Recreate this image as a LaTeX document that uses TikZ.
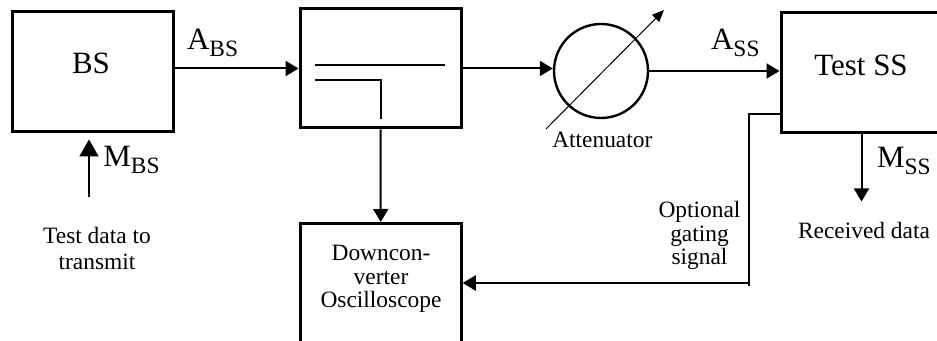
\documentclass[tikz,border=0pt]{standalone}
\usepackage{fontspec}
\setmainfont{Liberation Serif}
\usetikzlibrary{arrows.meta, positioning, calc}
\newcommand{\subs}[1]{\raisebox{-3.5pt}{\fontsize{11.7}{12}\selectfont #1}}

\begin{document}
\begin{tikzpicture}[
    x=0.5pt, y=-0.5pt,
    box/.style={rectangle, draw, line width=1.5pt, minimum width=80.5pt, minimum height=60pt, inner sep=0pt},
    big/.style={font=\fontsize{15.5}{18}\selectfont, inner sep=0pt},
    small/.style={font=\fontsize{11.7}{11.75}\selectfont, inner sep=0pt, align=center},
    arr/.style={-{Triangle[length=6.5pt, width=7.5pt]}, line width=1pt},
    wire/.style={line width=1pt}
]
\useasboundingbox (0,0) rectangle (937,341);
\clip (0,0) rectangle (937,341);

\node[box] (bs) at (92.5,72) {};
\node[box, minimum height=59.5pt] (coupler) at (380.5,68.5) {};
\node[box, anchor=north, minimum height=90pt] (down) at (380.75,222) {};
\node[circle, draw, line width=1.2pt, minimum size=47pt, inner sep=0pt] (att) at (601,71) {};
\node[box] (ss) at (861.5,73) {};

\node[big, anchor=base] (bstext) at (91,74) {BS};
\node[big, anchor=base] (sstext) at (861,76) {Test SS};
\node[big, anchor=base west] (abs) at (186.7,50) {A\subs{BS}};
\node[big, anchor=base west] (mbs) at (103,166.7) {M\subs{BS}};
\node[big, anchor=base west] (ass) at (710.7,49.3) {A\subs{SS}};
\node[big, anchor=base west] (mss) at (876.7,168) {M\subs{SS}};
\node[small, anchor=base] (atttext) at (602.3,147.7) {Attenuator};
\node[small, anchor=base, font=\fontsize{11.7}{13}\selectfont] (txdata) at (97,269.3) {Test data to\\transmit};
\node[small, anchor=base] (rxdata) at (864,238.3) {Received data};
\node[small, anchor=base] (gating) at (699.5,265) {Optional\\gating\\signal};
\node[small, anchor=base] (downtext) at (381,308) {Downcon-\\verter\\Oscilloscope};

\coordinate (msrc) at (89,197);
\coordinate (gate) at (749,283);

\draw[wire] (315,65) -- (445,65);
\draw[wire] (315,80) -| (381,119);

\draw[arr] (bs.east |- coupler.west) -- (coupler.west);
\draw[arr] (coupler.east) -- (att.west |- coupler.east);
\draw[arr] (att.east) -- (att.east -| ss.west);
\draw[arr] (coupler.south) -- (down.north);
\draw[arr, -{Triangle[length=8.5pt, width=9.5pt]}, shorten >=3pt] (msrc) -- (msrc |- bs.south);
\draw[arr] (ss.south) -- ++(0,67);
\draw[-{Triangle[length=6pt, width=5pt]}, line width=0.5pt] ([shift={(-55,58)}]att.center) -- ([shift={(63,-61)}]att.center);
\draw[wire] (ss.west) ++(0,41) -| ([yshift=-1.5pt]gate);
\draw[arr] (gate) -- (gate -| down.east);
\end{tikzpicture}
\end{document}
